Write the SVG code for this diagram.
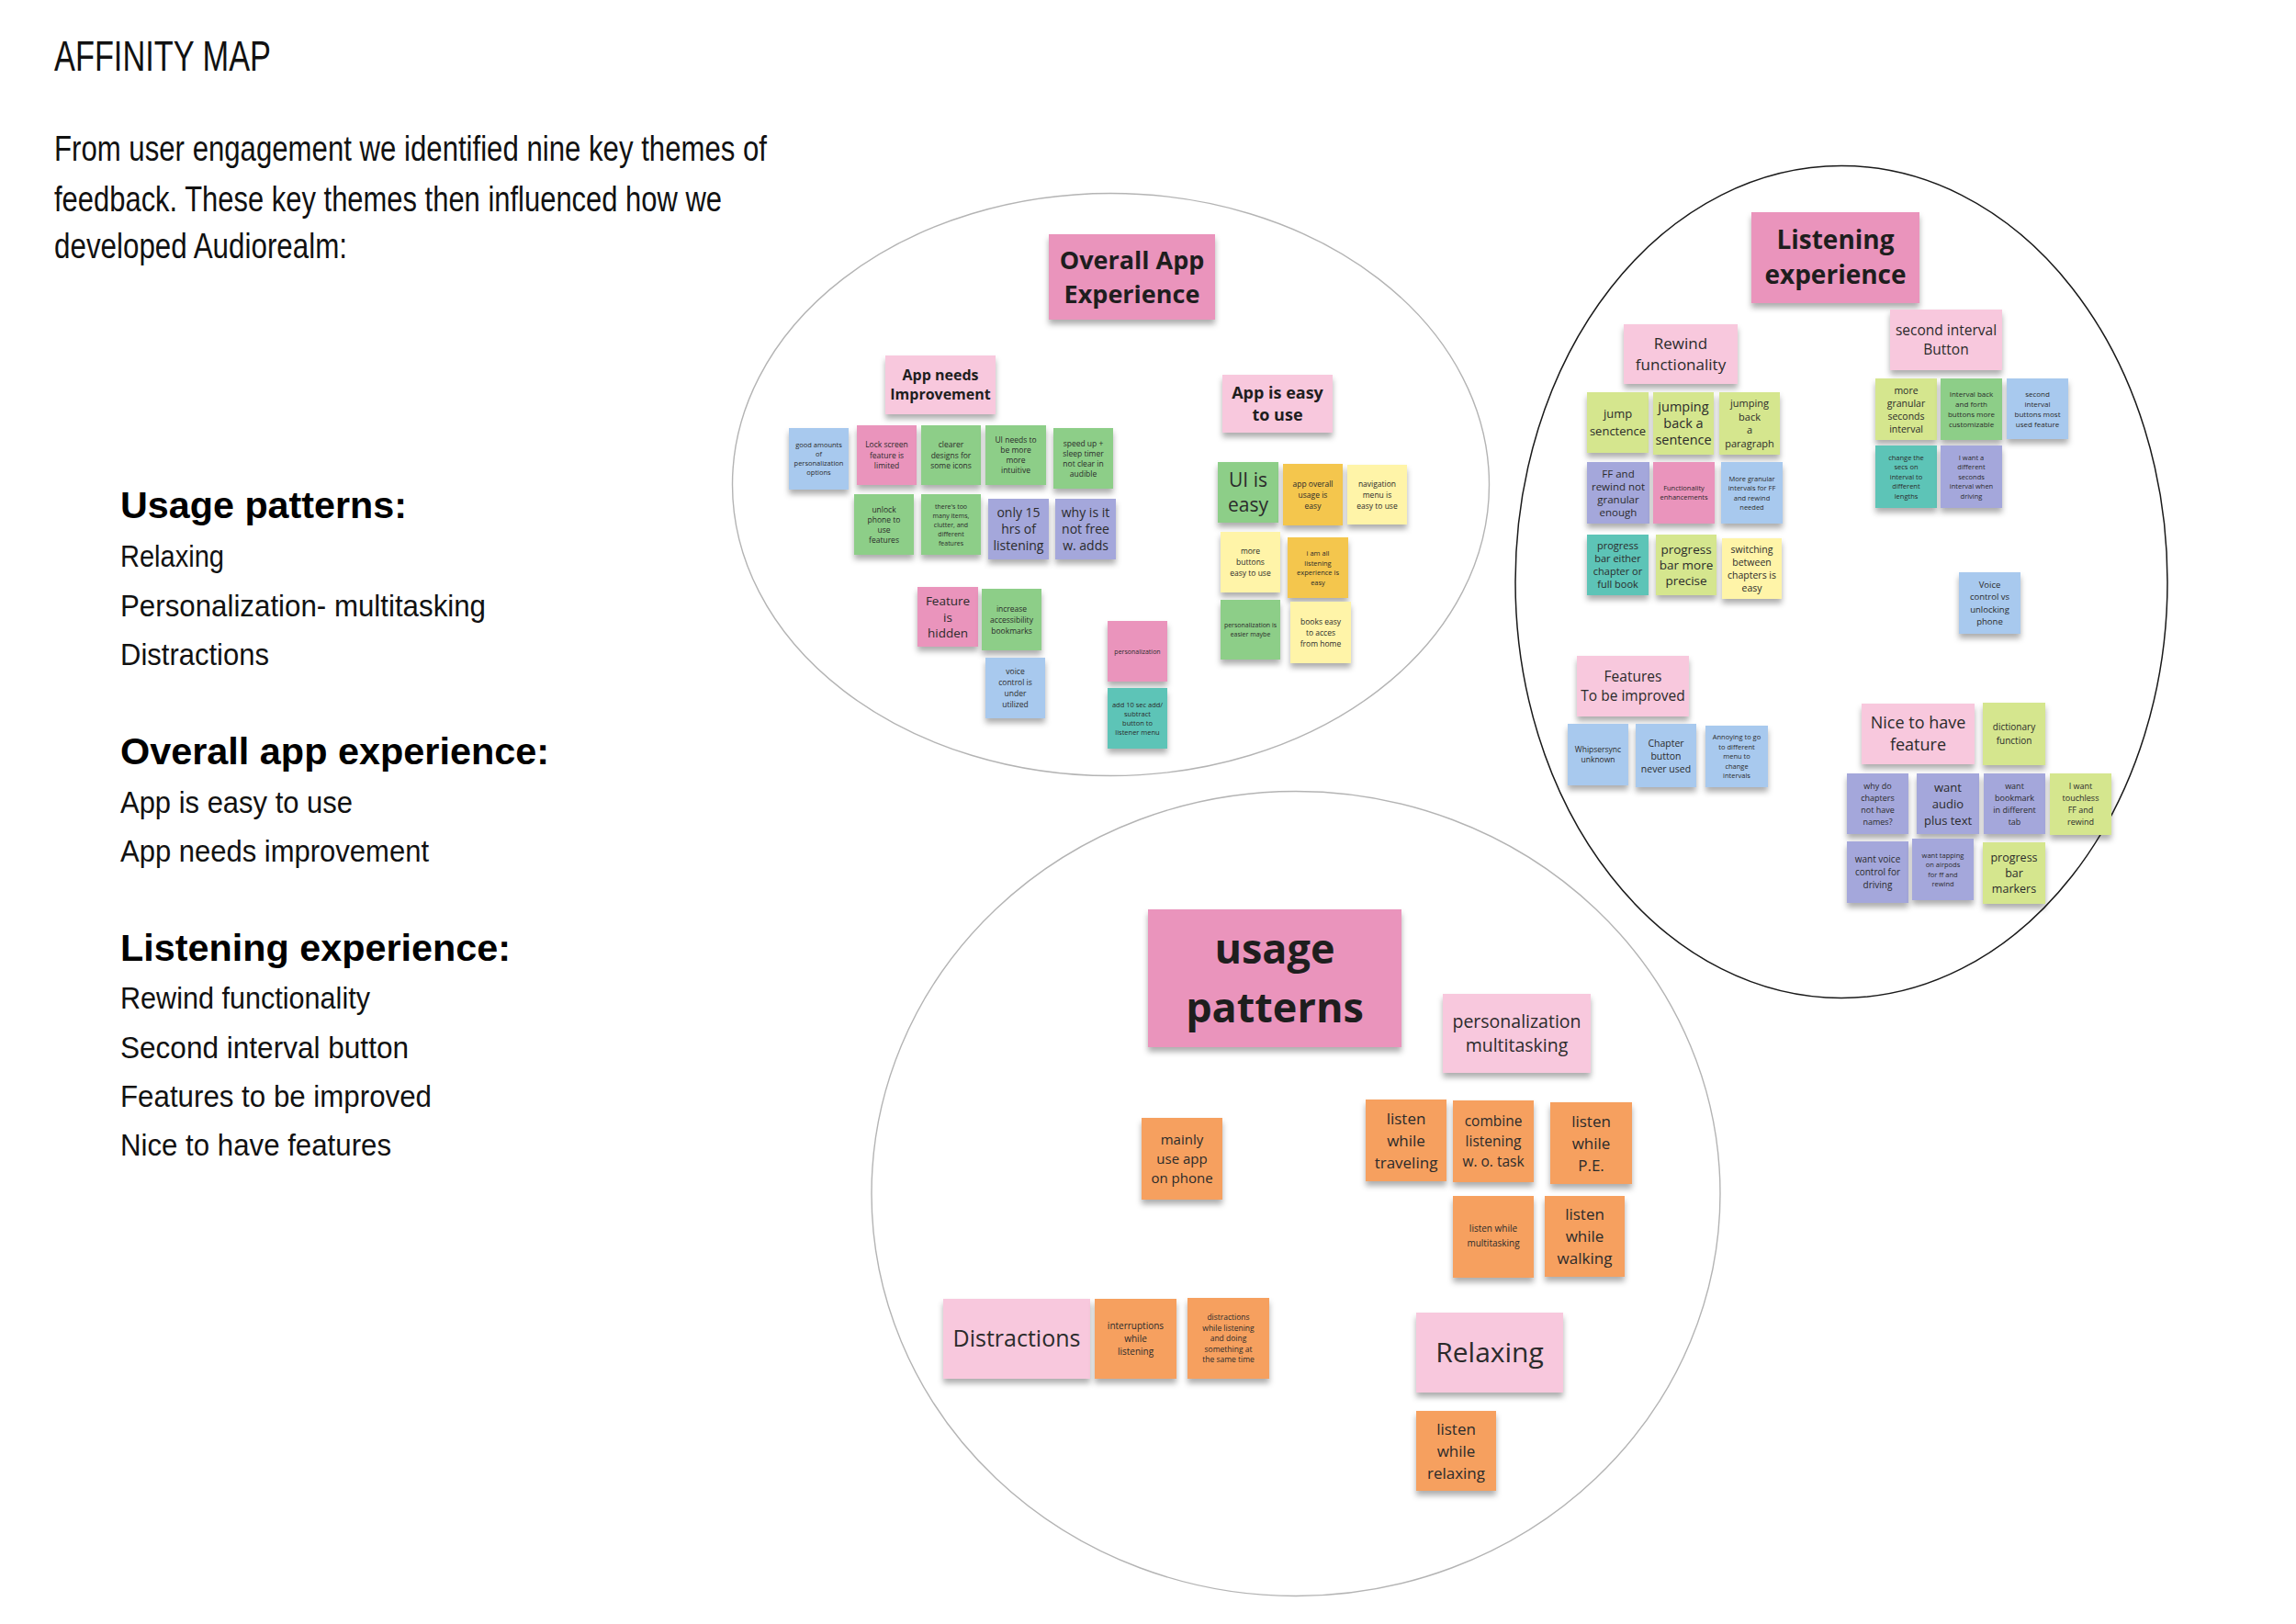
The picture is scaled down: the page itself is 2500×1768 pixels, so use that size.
<svg xmlns="http://www.w3.org/2000/svg" width="2500" height="1768" viewBox="0 0 2500 1768">
<defs>
<filter id="sh" x="-20%" y="-20%" width="140%" height="150%">
<feDropShadow dx="0" dy="5" stdDeviation="3" flood-color="#000" flood-opacity="0.32"/>
</filter>
<style>
.t{font-family:"Open Sans","Noto Sans","DejaVu Sans",sans-serif;fill:#2b2b2b;text-anchor:middle}
.b{font-weight:700;fill:#1e1e1e}
.sn rect{filter:url(#sh)}
.pk{fill:#EA94BC}.lp{fill:#F8C8DD}.gr{fill:#8DCE88}.lm{fill:#D5E68E}.bl{fill:#A8C9EE}
.lv{fill:#A4A7DB}.tl{fill:#5DC4B7}.or{fill:#F6A05E}.yl{fill:#FFF4A8}.gd{fill:#F4C64E}
.intro{font-family:"Liberation Sans Narrow","Liberation Sans",sans-serif;fill:#111}
.hd{font-family:"Liberation Sans",Arial,sans-serif;font-weight:700;font-size:40px;fill:#000}
.li{font-family:"Liberation Sans",Arial,sans-serif;font-size:34px;fill:#111}
.cl{fill:none;stroke:#b4b4b4;stroke-width:1.4}
.cd{fill:none;stroke:#1a1a1a;stroke-width:1.5}
</style>
</defs>
<rect width="2500" height="1768" fill="#fff"/>

<g id="intro">
<text class="intro" x="59" y="77" font-size="46" textLength="236" lengthAdjust="spacingAndGlyphs">AFFINITY MAP</text>
<text class="intro" x="59" y="175" font-size="39" textLength="776" lengthAdjust="spacingAndGlyphs">From user engagement we identified nine key themes of</text>
<text class="intro" x="59" y="230" font-size="39" textLength="727" lengthAdjust="spacingAndGlyphs">feedback. These key themes then influenced how we</text>
<text class="intro" x="59" y="281" font-size="39" textLength="319" lengthAdjust="spacingAndGlyphs">developed Audiorealm:</text>
</g>

<g id="themes-list">
<text class="hd" x="131" y="564" textLength="312" lengthAdjust="spacingAndGlyphs">Usage patterns:</text>
<text class="li" x="131" y="617" textLength="113" lengthAdjust="spacingAndGlyphs">Relaxing</text>
<text class="li" x="131" y="671" textLength="398" lengthAdjust="spacingAndGlyphs">Personalization- multitasking</text>
<text class="li" x="131" y="724" textLength="162" lengthAdjust="spacingAndGlyphs">Distractions</text>
<text class="hd" x="131" y="832" textLength="467" lengthAdjust="spacingAndGlyphs">Overall app experience:</text>
<text class="li" x="131" y="885" textLength="253" lengthAdjust="spacingAndGlyphs">App is easy to use</text>
<text class="li" x="131" y="938" textLength="336" lengthAdjust="spacingAndGlyphs">App needs improvement</text>
<text class="hd" x="131" y="1046" textLength="425" lengthAdjust="spacingAndGlyphs">Listening experience:</text>
<text class="li" x="131" y="1098" textLength="272" lengthAdjust="spacingAndGlyphs">Rewind functionality</text>
<text class="li" x="131" y="1152" textLength="314" lengthAdjust="spacingAndGlyphs">Second interval button</text>
<text class="li" x="131" y="1205" textLength="339" lengthAdjust="spacingAndGlyphs">Features to be improved</text>
<text class="li" x="131" y="1258" textLength="295" lengthAdjust="spacingAndGlyphs">Nice to have features</text>
</g>

<g id="clusters">
<ellipse id="c-overall" class="cl" cx="1209.5" cy="527.5" rx="412" ry="317"/>
<ellipse id="c-listening" class="cd" cx="2005" cy="633.5" rx="355" ry="453"/>
<ellipse id="c-usage" class="cl" cx="1411" cy="1299.5" rx="462" ry="438"/>
</g>

<g id="connectors"></g>

<!-- Overall App Experience -->
<g id="n-overall-title" class="sn"><rect class="pk" x="1142" y="255" width="181" height="93"/>
<text class="t b" font-size="27"><tspan x="1232.5" y="292.5">Overall App</tspan><tspan x="1232.5" y="329.5">Experience</tspan></text></g>
<g id="n-app-needs" class="sn"><rect class="lp" x="964" y="387" width="120" height="64"/>
<text class="t b" font-size="16"><tspan x="1024" y="414">App needs</tspan><tspan x="1024" y="435">Improvement</tspan></text></g>
<g id="n-app-easy" class="sn"><rect class="lp" x="1331" y="408" width="120" height="63"/>
<text class="t b" font-size="18"><tspan x="1391" y="434">App is easy</tspan><tspan x="1391" y="458">to use</tspan></text></g>

<g id="n-o1" class="sn"><rect class="bl" x="859" y="466" width="65" height="67"/>
<text class="t" font-size="7.5"><tspan x="891.5" y="487">good amounts</tspan><tspan x="891.5" y="497">of</tspan><tspan x="891.5" y="507">personalization</tspan><tspan x="891.5" y="517">options</tspan></text></g>
<g id="n-o2" class="sn"><rect class="pk" x="933" y="463" width="65" height="65"/>
<text class="t" font-size="8.5"><tspan x="965.5" y="487">Lock screen</tspan><tspan x="965.5" y="498.5">feature is</tspan><tspan x="965.5" y="510">limited</tspan></text></g>
<g id="n-o3" class="sn"><rect class="gr" x="1003" y="463" width="65" height="65"/>
<text class="t" font-size="8.5"><tspan x="1035.5" y="487">clearer</tspan><tspan x="1035.5" y="498.5">designs for</tspan><tspan x="1035.5" y="510">some icons</tspan></text></g>
<g id="n-o4" class="sn"><rect class="gr" x="1073" y="463" width="66" height="65"/>
<text class="t" font-size="8.5"><tspan x="1106" y="482">UI needs to</tspan><tspan x="1106" y="493">be more</tspan><tspan x="1106" y="504">more</tspan><tspan x="1106" y="515">intuitive</tspan></text></g>
<g id="n-o5" class="sn"><rect class="gr" x="1147" y="466" width="65" height="66"/>
<text class="t" font-size="8.5"><tspan x="1179.5" y="485.5">speed up +</tspan><tspan x="1179.5" y="496.5">sleep timer</tspan><tspan x="1179.5" y="507.5">not clear in</tspan><tspan x="1179.5" y="518.5">audible</tspan></text></g>
<g id="n-o6" class="sn"><rect class="gr" x="930" y="538" width="65" height="66"/>
<text class="t" font-size="8.5"><tspan x="962.5" y="557.5">unlock</tspan><tspan x="962.5" y="568.5">phone to</tspan><tspan x="962.5" y="579.5">use</tspan><tspan x="962.5" y="590.5">features</tspan></text></g>
<g id="n-o7" class="sn"><rect class="gr" x="1003" y="538" width="65" height="66"/>
<text class="t" font-size="7"><tspan x="1035.5" y="553.5">there's too</tspan><tspan x="1035.5" y="563.5">many items,</tspan><tspan x="1035.5" y="573.5">clutter, and</tspan><tspan x="1035.5" y="583.5">different</tspan><tspan x="1035.5" y="593.5">features</tspan></text></g>
<g id="n-o8" class="sn"><rect class="lv" x="1076" y="543" width="66" height="66"/>
<text class="t" font-size="14"><tspan x="1109" y="563">only 15</tspan><tspan x="1109" y="581">hrs of</tspan><tspan x="1109" y="599">listening</tspan></text></g>
<g id="n-o9" class="sn"><rect class="lv" x="1149" y="543" width="66" height="66"/>
<text class="t" font-size="14"><tspan x="1182" y="563">why is it</tspan><tspan x="1182" y="581">not free</tspan><tspan x="1182" y="599">w. adds</tspan></text></g>
<g id="n-o10" class="sn"><rect class="pk" x="999" y="639" width="66" height="65"/>
<text class="t" font-size="13.5"><tspan x="1032" y="659">Feature</tspan><tspan x="1032" y="676.5">is</tspan><tspan x="1032" y="694">hidden</tspan></text></g>
<g id="n-o11" class="sn"><rect class="gr" x="1069" y="641" width="65" height="67"/>
<text class="t" font-size="8.5"><tspan x="1101.5" y="665.5">increase</tspan><tspan x="1101.5" y="677.5">accessibility</tspan><tspan x="1101.5" y="689.5">bookmarks</tspan></text></g>
<g id="n-o12" class="sn"><rect class="bl" x="1073" y="716" width="65" height="66"/>
<text class="t" font-size="8.5"><tspan x="1105.5" y="734">voice</tspan><tspan x="1105.5" y="746">control is</tspan><tspan x="1105.5" y="758">under</tspan><tspan x="1105.5" y="770">utilized</tspan></text></g>
<g id="n-o13" class="sn"><rect class="pk" x="1206" y="676" width="65" height="66"/>
<text class="t" font-size="7"><tspan x="1238.5" y="711.5">personalization</tspan></text></g>
<g id="n-o14" class="sn"><rect class="tl" x="1206" y="749" width="65" height="66"/>
<text class="t" font-size="7.5"><tspan x="1238.5" y="769.5">add 10 sec add/</tspan><tspan x="1238.5" y="779.5">subtract</tspan><tspan x="1238.5" y="789.5">button to</tspan><tspan x="1238.5" y="799.5">listener menu</tspan></text></g>

<g id="n-e1" class="sn"><rect class="gr" x="1326" y="503" width="66" height="66"/>
<text class="t" font-size="21"><tspan x="1359" y="530">UI is</tspan><tspan x="1359" y="557">easy</tspan></text></g>
<g id="n-e2" class="sn"><rect class="gd" x="1397" y="505" width="65" height="67"/>
<text class="t" font-size="8.5"><tspan x="1429.5" y="529.5">app overall</tspan><tspan x="1429.5" y="541.5">usage is</tspan><tspan x="1429.5" y="553.5">easy</tspan></text></g>
<g id="n-e3" class="sn"><rect class="yl" x="1467" y="506" width="65" height="65"/>
<text class="t" font-size="8.5"><tspan x="1499.5" y="529.5">navigation</tspan><tspan x="1499.5" y="541.5">menu is</tspan><tspan x="1499.5" y="553.5">easy to use</tspan></text></g>
<g id="n-e4" class="sn"><rect class="yl" x="1329" y="579" width="65" height="66"/>
<text class="t" font-size="8.5"><tspan x="1361.5" y="603">more</tspan><tspan x="1361.5" y="615">buttons</tspan><tspan x="1361.5" y="627">easy to use</tspan></text></g>
<g id="n-e5" class="sn"><rect class="gd" x="1402" y="585" width="66" height="66"/>
<text class="t" font-size="7.5"><tspan x="1435" y="605">i am all</tspan><tspan x="1435" y="615.5">listening</tspan><tspan x="1435" y="626">experience is</tspan><tspan x="1435" y="636.5">easy</tspan></text></g>
<g id="n-e6" class="sn"><rect class="gr" x="1329" y="653" width="65" height="65"/>
<text class="t" font-size="7"><tspan x="1361.5" y="683">personalization is</tspan><tspan x="1361.5" y="693">easier maybe</tspan></text></g>
<g id="n-e7" class="sn"><rect class="yl" x="1405" y="655" width="66" height="67"/>
<text class="t" font-size="8.5"><tspan x="1438" y="679.5">books easy</tspan><tspan x="1438" y="691.5">to acces</tspan><tspan x="1438" y="703.5">from home</tspan></text></g>

<!-- Listening experience -->
<g id="n-listening-title" class="sn"><rect class="pk" x="1907" y="231" width="183" height="99"/>
<text class="t b" font-size="28"><tspan x="1998.5" y="271">Listening</tspan><tspan x="1998.5" y="309">experience</tspan></text></g>
<g id="n-rewind" class="sn"><rect class="lp" x="1768" y="353" width="124" height="65"/>
<text class="t" font-size="17"><tspan x="1830" y="380">Rewind</tspan><tspan x="1830" y="403">functionality</tspan></text></g>
<g id="n-second" class="sn"><rect class="lp" x="2058" y="337" width="122" height="66"/>
<text class="t" font-size="15.5"><tspan x="2119" y="365">second interval</tspan><tspan x="2119" y="386">Button</tspan></text></g>
<g id="n-features" class="sn"><rect class="lp" x="1717" y="714" width="122" height="66"/>
<text class="t" font-size="15.5"><tspan x="1778" y="742">Features</tspan><tspan x="1778" y="763">To be improved</tspan></text></g>
<g id="n-nice" class="sn"><rect class="lp" x="2027" y="766" width="123" height="66"/>
<text class="t" font-size="18"><tspan x="2088.5" y="793">Nice to have</tspan><tspan x="2088.5" y="817">feature</tspan></text></g>

<g id="n-r1" class="sn"><rect class="lm" x="1728" y="427" width="67" height="66"/>
<text class="t" font-size="13"><tspan x="1761.5" y="455">jump</tspan><tspan x="1761.5" y="474">senctence</tspan></text></g>
<g id="n-r2" class="sn"><rect class="lm" x="1800" y="427" width="66" height="68"/>
<text class="t" font-size="14.5"><tspan x="1833" y="448">jumping</tspan><tspan x="1833" y="466">back a</tspan><tspan x="1833" y="484">sentence</tspan></text></g>
<g id="n-r3" class="sn"><rect class="lm" x="1872" y="427" width="66" height="68"/>
<text class="t" font-size="11"><tspan x="1905" y="443">jumping</tspan><tspan x="1905" y="457.5">back</tspan><tspan x="1905" y="472">a</tspan><tspan x="1905" y="486.5">paragraph</tspan></text></g>
<g id="n-r4" class="sn"><rect class="lv" x="1728" y="503" width="68" height="67"/>
<text class="t" font-size="11.5"><tspan x="1762" y="519.5">FF and</tspan><tspan x="1762" y="533.5">rewind not</tspan><tspan x="1762" y="547.5">granular</tspan><tspan x="1762" y="561.5">enough</tspan></text></g>
<g id="n-r5" class="sn"><rect class="pk" x="1800" y="503" width="67" height="67"/>
<text class="t" font-size="7.5"><tspan x="1833.5" y="534">Functionality</tspan><tspan x="1833.5" y="544">enhancements</tspan></text></g>
<g id="n-r6" class="sn"><rect class="bl" x="1874" y="503" width="67" height="67"/>
<text class="t" font-size="7.5"><tspan x="1907.5" y="523.5">More granular</tspan><tspan x="1907.5" y="534">intervals for FF</tspan><tspan x="1907.5" y="544.5">and rewind</tspan><tspan x="1907.5" y="555">needed</tspan></text></g>
<g id="n-r7" class="sn"><rect class="tl" x="1728" y="582" width="67" height="66"/>
<text class="t" font-size="11"><tspan x="1761.5" y="598">progress</tspan><tspan x="1761.5" y="612">bar either</tspan><tspan x="1761.5" y="626">chapter or</tspan><tspan x="1761.5" y="640">full book</tspan></text></g>
<g id="n-r8" class="sn"><rect class="lm" x="1803" y="582" width="66" height="66"/>
<text class="t" font-size="13.5"><tspan x="1836" y="603">progress</tspan><tspan x="1836" y="620">bar more</tspan><tspan x="1836" y="637">precise</tspan></text></g>
<g id="n-r9" class="sn"><rect class="yl" x="1875" y="586" width="65" height="66"/>
<text class="t" font-size="10.5"><tspan x="1907.5" y="602">switching</tspan><tspan x="1907.5" y="616">between</tspan><tspan x="1907.5" y="630">chapters is</tspan><tspan x="1907.5" y="644">easy</tspan></text></g>

<g id="n-s1" class="sn"><rect class="lm" x="2042" y="412" width="67" height="67"/>
<text class="t" font-size="10.5"><tspan x="2075.5" y="428.5">more</tspan><tspan x="2075.5" y="442.5">granular</tspan><tspan x="2075.5" y="456.5">seconds</tspan><tspan x="2075.5" y="470.5">interval</tspan></text></g>
<g id="n-s2" class="sn"><rect class="gr" x="2113" y="412" width="67" height="67"/>
<text class="t" font-size="8"><tspan x="2146.5" y="432">Interval back</tspan><tspan x="2146.5" y="443">and forth</tspan><tspan x="2146.5" y="454">buttons more</tspan><tspan x="2146.5" y="465">customizable</tspan></text></g>
<g id="n-s3" class="sn"><rect class="bl" x="2185" y="412" width="67" height="66"/>
<text class="t" font-size="8"><tspan x="2218.5" y="431.5">second</tspan><tspan x="2218.5" y="442.5">interval</tspan><tspan x="2218.5" y="453.5">buttons most</tspan><tspan x="2218.5" y="464.5">used feature</tspan></text></g>
<g id="n-s4" class="sn"><rect class="tl" x="2042" y="485" width="67" height="68"/>
<text class="t" font-size="7.5"><tspan x="2075.5" y="500.5">change the</tspan><tspan x="2075.5" y="511">secs on</tspan><tspan x="2075.5" y="521.5">interval to</tspan><tspan x="2075.5" y="532">different</tspan><tspan x="2075.5" y="542.5">lengths</tspan></text></g>
<g id="n-s5" class="sn"><rect class="lv" x="2113" y="485" width="67" height="68"/>
<text class="t" font-size="7.5"><tspan x="2146.5" y="500.5">I want a</tspan><tspan x="2146.5" y="511">different</tspan><tspan x="2146.5" y="521.5">seconds</tspan><tspan x="2146.5" y="532">interval when</tspan><tspan x="2146.5" y="542.5">driving</tspan></text></g>
<g id="n-s6" class="sn"><rect class="bl" x="2133" y="623" width="67" height="67"/>
<text class="t" font-size="9.5"><tspan x="2166.5" y="639.5">Voice</tspan><tspan x="2166.5" y="653">control vs</tspan><tspan x="2166.5" y="666.5">unlocking</tspan><tspan x="2166.5" y="680">phone</tspan></text></g>

<g id="n-f1" class="sn"><rect class="bl" x="1707" y="788" width="66" height="67"/>
<text class="t" font-size="8.5"><tspan x="1740" y="819">Whipsersync</tspan><tspan x="1740" y="830">unknown</tspan></text></g>
<g id="n-f2" class="sn"><rect class="bl" x="1781" y="788" width="66" height="69"/>
<text class="t" font-size="10.5"><tspan x="1814" y="812.5">Chapter</tspan><tspan x="1814" y="826.5">button</tspan><tspan x="1814" y="840.5">never used</tspan></text></g>
<g id="n-f3" class="sn"><rect class="bl" x="1857" y="790" width="68" height="67"/>
<text class="t" font-size="7.5"><tspan x="1891" y="805">Annoying to go</tspan><tspan x="1891" y="815.5">to different</tspan><tspan x="1891" y="826">menu to</tspan><tspan x="1891" y="836.5">change</tspan><tspan x="1891" y="847">intervals</tspan></text></g>

<g id="n-h1" class="sn"><rect class="lm" x="2159" y="765" width="68" height="68"/>
<text class="t" font-size="10"><tspan x="2193" y="795">dictionary</tspan><tspan x="2193" y="810">function</tspan></text></g>
<g id="n-h2" class="sn"><rect class="lv" x="2011" y="842" width="67" height="66"/>
<text class="t" font-size="9"><tspan x="2044.5" y="858.5">why do</tspan><tspan x="2044.5" y="871.5">chapters</tspan><tspan x="2044.5" y="884.5">not have</tspan><tspan x="2044.5" y="897.5">names?</tspan></text></g>
<g id="n-h3" class="sn"><rect class="lv" x="2087" y="842" width="68" height="66"/>
<text class="t" font-size="13"><tspan x="2121" y="861.5">want</tspan><tspan x="2121" y="879.5">audio</tspan><tspan x="2121" y="897.5">plus text</tspan></text></g>
<g id="n-h4" class="sn"><rect class="lv" x="2160" y="842" width="67" height="66"/>
<text class="t" font-size="9"><tspan x="2193.5" y="858.5">want</tspan><tspan x="2193.5" y="871.5">bookmark</tspan><tspan x="2193.5" y="884.5">in different</tspan><tspan x="2193.5" y="897.5">tab</tspan></text></g>
<g id="n-h5" class="sn"><rect class="lm" x="2232" y="842" width="67" height="67"/>
<text class="t" font-size="9"><tspan x="2265.5" y="859">I want</tspan><tspan x="2265.5" y="872">touchless</tspan><tspan x="2265.5" y="885">FF and</tspan><tspan x="2265.5" y="898">rewind</tspan></text></g>
<g id="n-h6" class="sn"><rect class="lv" x="2011" y="916" width="67" height="67"/>
<text class="t" font-size="10"><tspan x="2044.5" y="939">want voice</tspan><tspan x="2044.5" y="953">control for</tspan><tspan x="2044.5" y="967">driving</tspan></text></g>
<g id="n-h7" class="sn"><rect class="lv" x="2082" y="913" width="67" height="67"/>
<text class="t" font-size="7.5"><tspan x="2115.5" y="933.5">want tapping</tspan><tspan x="2115.5" y="944">on airpods</tspan><tspan x="2115.5" y="954.5">for ff and</tspan><tspan x="2115.5" y="965">rewind</tspan></text></g>
<g id="n-h8" class="sn"><rect class="lm" x="2159" y="917" width="68" height="67"/>
<text class="t" font-size="12.5"><tspan x="2193" y="938">progress</tspan><tspan x="2193" y="955">bar</tspan><tspan x="2193" y="972">markers</tspan></text></g>

<!-- Usage patterns -->
<g id="n-usage-title" class="sn"><rect class="pk" x="1250" y="990" width="276" height="150"/>
<text class="t b" font-size="45"><tspan x="1388" y="1049">usage</tspan><tspan x="1388" y="1113">patterns</tspan></text></g>
<g id="n-personalization" class="sn"><rect class="lp" x="1571" y="1082" width="161" height="86"/>
<text class="t" font-size="19.5"><tspan x="1651.5" y="1119">personalization</tspan><tspan x="1651.5" y="1145">multitasking</tspan></text></g>
<g id="n-u1" class="sn"><rect class="or" x="1243" y="1217" width="88" height="89"/>
<text class="t" font-size="15"><tspan x="1287" y="1246">mainly</tspan><tspan x="1287" y="1267">use app</tspan><tspan x="1287" y="1288">on phone</tspan></text></g>
<g id="n-u2" class="sn"><rect class="or" x="1487" y="1197" width="88" height="89"/>
<text class="t" font-size="17"><tspan x="1531" y="1223.5">listen</tspan><tspan x="1531" y="1247.5">while</tspan><tspan x="1531" y="1271.5">traveling</tspan></text></g>
<g id="n-u3" class="sn"><rect class="or" x="1582" y="1198" width="88" height="89"/>
<text class="t" font-size="15.5"><tspan x="1626" y="1226">combine</tspan><tspan x="1626" y="1248">listening</tspan><tspan x="1626" y="1270">w. o. task</tspan></text></g>
<g id="n-u4" class="sn"><rect class="or" x="1688" y="1200" width="89" height="89"/>
<text class="t" font-size="17"><tspan x="1732.5" y="1226.5">listen</tspan><tspan x="1732.5" y="1250.5">while</tspan><tspan x="1732.5" y="1274.5">P.E.</tspan></text></g>
<g id="n-u5" class="sn"><rect class="or" x="1582" y="1302" width="88" height="89"/>
<text class="t" font-size="10"><tspan x="1626" y="1341">listen while</tspan><tspan x="1626" y="1357">multitasking</tspan></text></g>
<g id="n-u6" class="sn"><rect class="or" x="1682" y="1302" width="87" height="88"/>
<text class="t" font-size="17"><tspan x="1725.5" y="1328">listen</tspan><tspan x="1725.5" y="1352">while</tspan><tspan x="1725.5" y="1376">walking</tspan></text></g>
<g id="n-relaxing" class="sn"><rect class="lp" x="1542" y="1429" width="160" height="87"/>
<text class="t" font-size="30"><tspan x="1622" y="1483">Relaxing</tspan></text></g>
<g id="n-u7" class="sn"><rect class="or" x="1542" y="1536" width="87" height="87"/>
<text class="t" font-size="17"><tspan x="1585.5" y="1561.5">listen</tspan><tspan x="1585.5" y="1585.5">while</tspan><tspan x="1585.5" y="1609.5">relaxing</tspan></text></g>
<g id="n-distractions" class="sn"><rect class="lp" x="1027" y="1414" width="160" height="87"/>
<text class="t" font-size="25"><tspan x="1107" y="1466">Distractions</tspan></text></g>
<g id="n-u8" class="sn"><rect class="or" x="1192" y="1414" width="89" height="87"/>
<text class="t" font-size="10"><tspan x="1236.5" y="1447">interruptions</tspan><tspan x="1236.5" y="1461">while</tspan><tspan x="1236.5" y="1475">listening</tspan></text></g>
<g id="n-u9" class="sn"><rect class="or" x="1293" y="1413" width="89" height="88"/>
<text class="t" font-size="8.5"><tspan x="1337.5" y="1437">distractions</tspan><tspan x="1337.5" y="1448.5">while listening</tspan><tspan x="1337.5" y="1460">and doing</tspan><tspan x="1337.5" y="1471.5">something at</tspan><tspan x="1337.5" y="1483">the same time</tspan></text></g>
</svg>
